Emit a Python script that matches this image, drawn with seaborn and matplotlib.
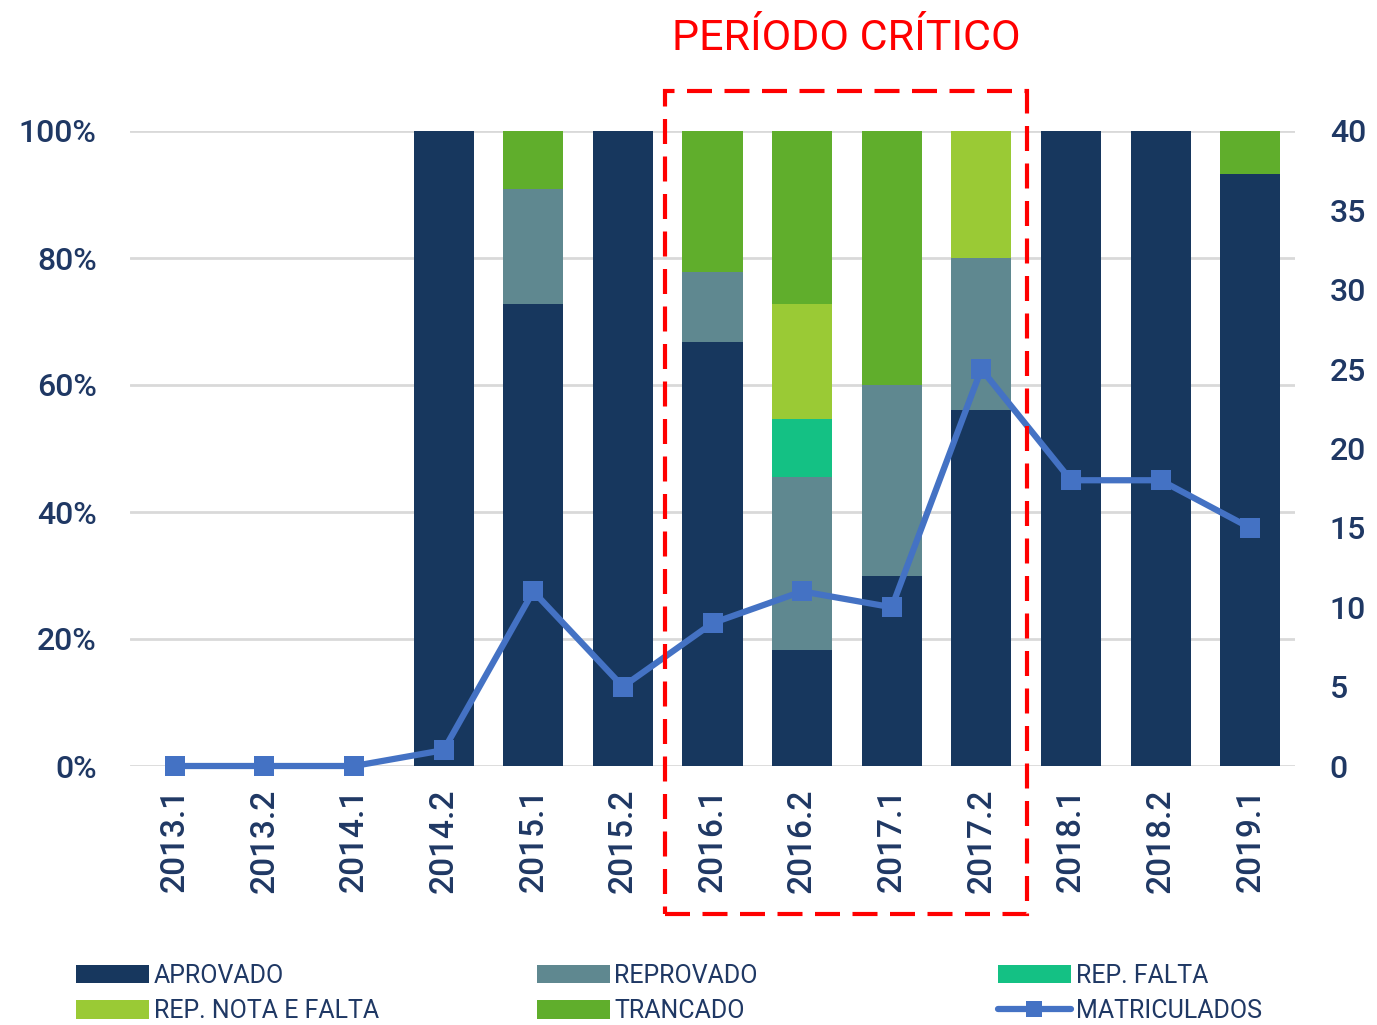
import numpy as np
import pandas as pd
import matplotlib
matplotlib.use("Agg")
import matplotlib.pyplot as plt
import matplotlib.patches as mpatches
from matplotlib.lines import Line2D
import seaborn as sns

# --- data -------------------------------------------------------------
semestres = ["2013.1", "2013.2", "2014.1", "2014.2", "2015.1", "2015.2", "2016.1",
             "2016.2", "2017.1", "2017.2", "2018.1", "2018.2", "2019.1"]
aprovado = [0, 0, 0, 100, 72.7, 100, 66.7, 18.2, 30.0, 56.0, 100, 100, 93.3]
reprovado = [0, 0, 0, 0, 18.2, 0, 11.1, 27.3, 30.0, 24.0, 0, 0, 0]
rep_falta = [0, 0, 0, 0, 0, 0, 0, 9.1, 0, 0, 0, 0, 0]
rep_nota_falta = [0, 0, 0, 0, 0, 0, 0, 18.2, 0, 20.0, 0, 0, 0]
trancado = [0, 0, 0, 0, 9.1, 0, 22.2, 27.2, 40.0, 0, 0, 0, 6.7]
matriculados = [0, 0, 0, 1, 11, 5, 9, 11, 10, 25, 18, 18, 15]

series_names = ["APROVADO", "REPROVADO", "REP. FALTA", "REP. NOTA E FALTA", "TRANCADO"]
series_vals = [aprovado, reprovado, rep_falta, rep_nota_falta, trancado]
colors = {
    "APROVADO": "#17375E",
    "REPROVADO": "#5F8890",
    "REP. FALTA": "#14C184",
    "REP. NOTA E FALTA": "#9ACA35",
    "TRANCADO": "#60AE2C",
}
line_color = "#4472C4"
text_color = "#1F3864"
red = "#FF0000"

tick_font = "Roboto"
narrow_font = ["Liberation Sans Narrow", "Roboto", "DejaVu Sans"]

sns.set_theme(style="white")
plt.rcParams["font.family"] = [tick_font, "DejaVu Sans"]

W, H = 1377, 1025
fig = plt.figure(figsize=(W / 100, H / 100), dpi=100)
ax = fig.add_axes([130 / W, (H - 766) / H, 1165 / W, 635 / H])

# cumulative stacks, drawn from the top layer down
df = pd.DataFrame({n: v for n, v in zip(series_names, series_vals)}, index=semestres)
cum = df.cumsum(axis=1)
for name in reversed(series_names):
    sns.barplot(x=semestres, y=cum[name].values, color=colors[name], saturation=1,
                width=0.67, errorbar=None, ax=ax, zorder=2, linewidth=0)

ax.set_ylim(0, 100)
ax.set_xlim(-0.5, len(semestres) - 0.5)
ax.set_yticks(np.arange(0, 101, 20))
ax.set_yticklabels([f"{v}%" for v in range(0, 101, 20)])
ax.grid(axis="y", color="#D9D9D9", linewidth=2, zorder=0)
ax.grid(axis="x", visible=False)
ax.set_axisbelow(True)
for s in ax.spines.values():
    s.set_visible(False)
ax.tick_params(axis="y", length=0, pad=24, labelsize=23, labelcolor=text_color)
ax.tick_params(axis="x", length=0, pad=16, labelsize=24, labelcolor=text_color, rotation=90)
for lbl in ax.get_xticklabels() + ax.get_yticklabels():
    lbl.set_fontweight("medium")
ax.set_xlabel("")
ax.set_ylabel("")

# enrolment line on the secondary axis
ax2 = ax.twinx()
sns.lineplot(x=np.arange(len(semestres)), y=matriculados, ax=ax2, color=line_color,
             linewidth=4.5, marker="s", markersize=15, markeredgewidth=0, clip_on=False)
ax2.set_ylim(0, 40)
ax2.set_xlim(-0.5, len(semestres) - 0.5)
ax2.set_yticks(np.arange(0, 41, 5))
ax2.grid(False)
for s in ax2.spines.values():
    s.set_visible(False)
ax2.tick_params(axis="y", length=0, pad=25, labelsize=23, labelcolor=text_color)
for lbl in ax2.get_yticklabels():
    lbl.set_fontweight("medium")
ax2.set_xlabel("")
ax2.set_ylabel("")

# highlighted period
rect = mpatches.Rectangle((5.47, -23.3), 9.51 - 5.47, 106.3 + 23.3, fill=False,
                          edgecolor=red, linewidth=3, linestyle=(0, (6, 3)),
                          clip_on=False, zorder=10, transform=ax.transData)
ax2.add_patch(rect)
fig.text(846 / W, 1 - 38 / H, "PERÍODO CRÍTICO", ha="center", va="center",
         color=red, fontsize=31, family=narrow_font)

# legend in three columns
def patch(name):
    return mpatches.Patch(facecolor=colors[name], edgecolor="none", label=name)

line_handle = Line2D([], [], color=line_color, linewidth=4.5, marker="s", markersize=12,
                     markeredgewidth=0, label="MATRICULADOS")
columns = [
    (76, [patch("APROVADO"), patch("REP. NOTA E FALTA")]),
    (537, [patch("REPROVADO"), patch("TRANCADO")]),
    (998, [patch("REP. FALTA"), line_handle]),
]
for x0, handles in columns:
    leg = fig.legend(handles=handles, loc="upper left",
                     bbox_to_anchor=(x0 / W, 1 - 964 / H), frameon=False,
                     borderpad=0, borderaxespad=0, handlelength=2.9, handleheight=0.75,
                     handletextpad=0.2, labelspacing=0.45,
                     prop={"family": narrow_font, "size": 18})
    for t in leg.get_texts():
        t.set_color(text_color)

fig.savefig("out.png", dpi=100)
